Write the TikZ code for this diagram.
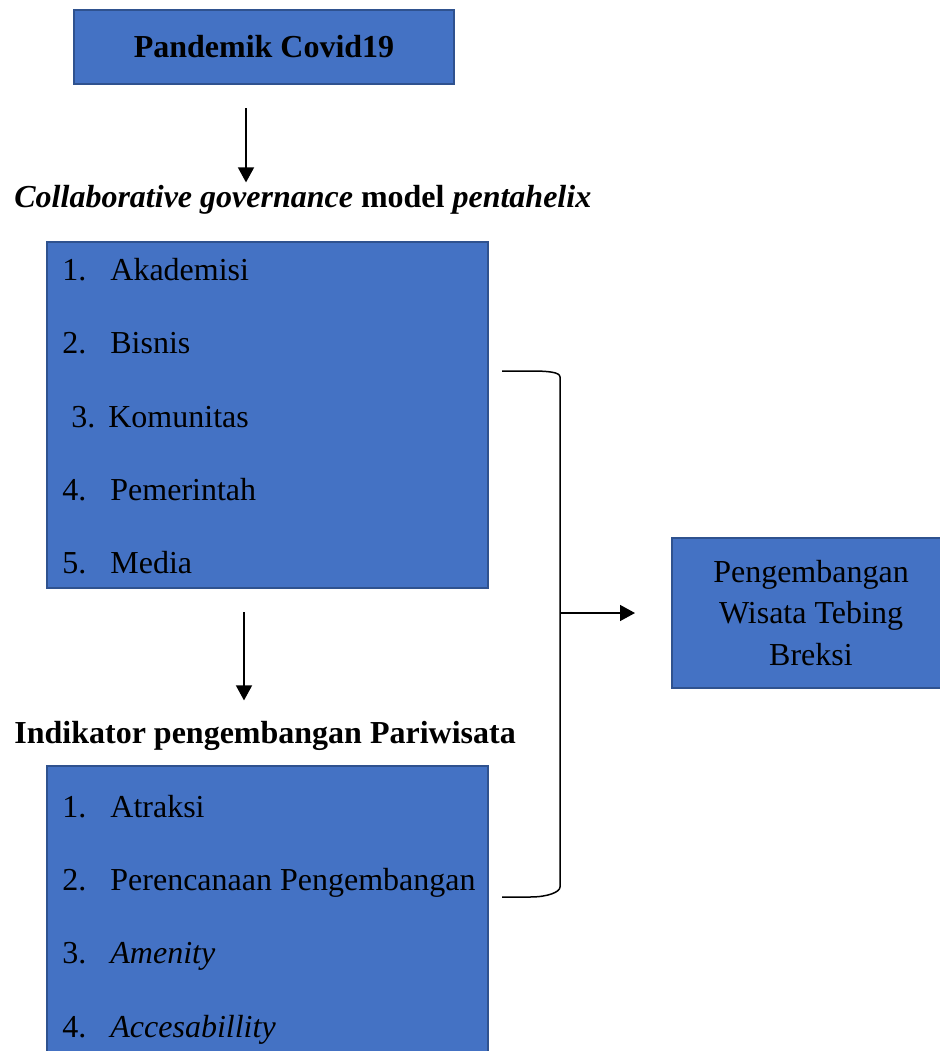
\documentclass[tikz,border=0pt]{standalone}
\usepackage{fontspec}
\setmainfont{Liberation Serif}
\usepackage{tikz}
\usetikzlibrary{arrows.meta}
\definecolor{boxblue}{HTML}{4472C4}
\definecolor{boxedge}{HTML}{2F528F}

\begin{document}
\begin{tikzpicture}[x=0.5pt, y=-0.5pt, font=\fontsize{16}{20.75}\selectfont,
		main/.style={draw=boxedge, fill=boxblue, line width=1pt},
		entry/.style={anchor=base west, inner sep=0pt},
		head/.style={anchor=base west, inner sep=0pt},
		arrow/.style={-{Triangle[width=8pt,length=7.5pt]}, line width=0.75pt}]
		\useasboundingbox (0,0) rectangle (940,1051);

		\node[main, minimum width=190pt, minimum height=37pt] (covid) at (264,47) {\textbf{Pandemik Covid19}};
		\node[head] (collab) at (14,207) {\textbf{\textit{Collaborative governance} model \textit{pentahelix}}};
		\node[main, minimum width=220.5pt, minimum height=173pt] (penta) at (267.5,415) {};
		\node[entry] (p1) at (62,280) {\makebox[24pt][l]{1.}Akademisi};
		\node[entry] (p2) at (62,353) {\makebox[24pt][l]{2.}Bisnis};
		\node[entry] (p3) at (71,427) {\makebox[18.5pt][l]{3.}Komunitas};
		\node[entry] (p4) at (62,500) {\makebox[24pt][l]{4.}Pemerintah};
		\node[entry] (p5) at (62,573) {\makebox[24pt][l]{5.}Media};

		\node[head] (indik) at (14,743) {\textbf{Indikator pengembangan Pariwisata}};
		\node[main, minimum width=220.5pt, minimum height=147pt] (indi) at (267.5,913) {};
		\node[entry] (i1) at (62,817) {\makebox[24pt][l]{1.}Atraksi};
		\node[entry] (i2) at (62,890) {\makebox[24pt][l]{2.}Perencanaan Pengembangan};
		\node[entry] (i3) at (62,963) {\makebox[24pt][l]{3.}\textit{Amenity}};
		\node[entry] (i4) at (62,1037) {\makebox[24pt][l]{4.}\textit{Accesabillity}};

		\node[main, minimum width=139pt, minimum height=75pt, align=center] (wisata) at (811,613) {Pengembangan\\Wisata Tebing\\Breksi};

		\coordinate (a1) at (246,108);
		\coordinate (a2) at (244,612);
		\coordinate (bt) at (502,371);
		\coordinate (bb) at (502,897);
		\coordinate (bm) at (560,613);

		\draw[arrow] (a1) -- ([yshift=1pt]collab.north -| a1);
		\draw[arrow] (a2) -- ([yshift=10pt]indik.north -| a2);
		\draw[line width=0.75pt] (bt) -- (530,371) .. controls (548,371) and (560,372) .. (560,377)
			-- (560,887) .. controls (560,892) and (548,897) .. (530,897) -- (bb);
		\draw[arrow] (bm) -- ([xshift=-18pt]wisata.west);

	\end{tikzpicture}
\end{document}
